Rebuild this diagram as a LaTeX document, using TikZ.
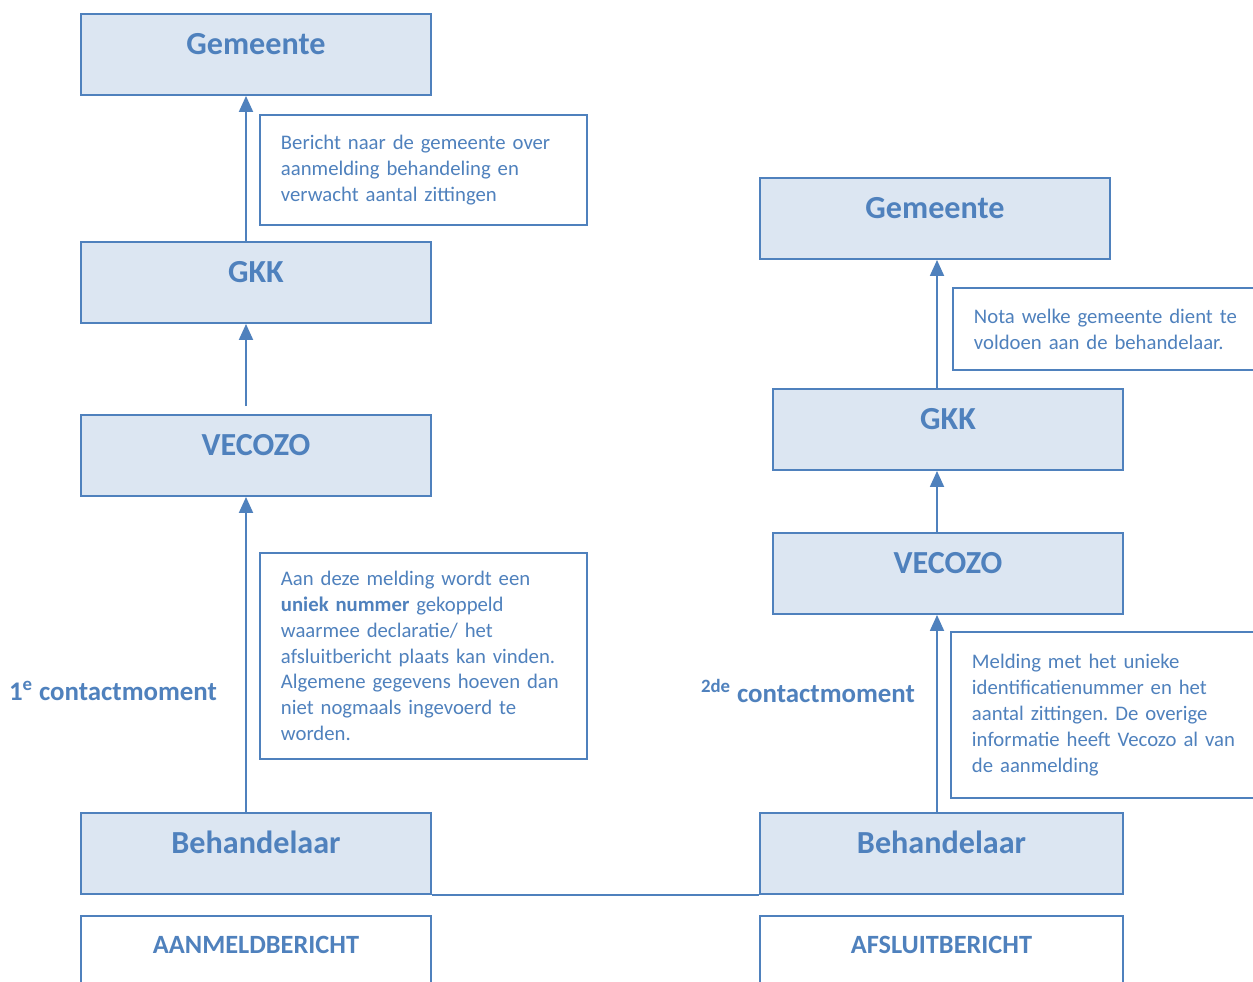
\documentclass[tikz,border=0pt]{standalone}
\usepackage{fontspec}
\setmainfont{Carlito}
\usepackage{xcolor}
\usetikzlibrary{arrows.meta}
\definecolor{vzblue}{HTML}{4F81BD}
\definecolor{vzfill}{HTML}{DCE6F2}
\frenchspacing

\begin{document}
\begin{tikzpicture}[x=0.02cm, y=-0.02cm, color=vzblue, line width=1.1pt,
    >={Triangle[width=0.28cm,length=0.32cm]},
    titlebox/.style={draw, fill=vzfill, minimum width=7cm, inner ysep=0pt,
       text height=0.81cm, text depth=0.81cm, font=\fontsize{18.3}{21}\selectfont\bfseries},
    msgbox/.style={draw, fill=white, anchor=north, minimum width=7cm, inner ysep=0pt,
       text height=0.75cm, text depth=1.2cm, font=\fontsize{15}{18}\selectfont\bfseries},
    notebox/.style={draw, anchor=north west, align=left, inner xsep=0.42cm,
       font=\fontsize{11.8}{14.75}\selectfont},
    contact/.style={font=\fontsize{15.3}{18}\selectfont\bfseries}]
    \useasboundingbox[fill=white] (0,0) rectangle (1253,981);
    % aanmelding
    \node (lgem) at (256,54.5)  [titlebox] {Gemeente};
    \node (lgkk) at (256,282.5) [titlebox] {GKK};
    \node (lvec) at (256,455.5) [titlebox] {VECOZO};
    \node (lbeh) at (256,853.5) [titlebox] {Behandelaar};
    \node (lmsg) at (256,915)   [msgbox] {AANMELDBERICHT};
    \node (lnote1) at (259,114) [notebox, text width=5.7cm, minimum height=2.2cm]
       {Bericht naar de gemeente over\\aanmelding behandeling en\\verwacht aantal zittingen};
    \node (lnote2) at (259,552) [notebox, text width=5.7cm, minimum height=4.12cm]
       {Aan deze melding wordt een\\\textbf{uniek nummer} gekoppeld\\waarmee declaratie/ het\\afsluitbericht plaats kan vinden.\\Algemene gegevens hoeven dan\\niet nogmaals ingevoerd te\\worden.};
    \node (lcontact) at (113,691) [contact] {1\textsuperscript{e} contactmoment};
    % afsluiting
    \node (rgem) at (935,218.5)   [titlebox] {Gemeente};
    \node (rgkk) at (948,429.5)   [titlebox] {GKK};
    \node (rvec) at (948,573.5)   [titlebox] {VECOZO};
    \node (rbeh) at (941.5,853.5) [titlebox, minimum width=7.26cm] {Behandelaar};
    \node (rmsg) at (941.5,915)   [msgbox, minimum width=7.26cm] {AFSLUITBERICHT};
    \node (rnote1) at (952,287) [notebox, text width=7cm, minimum height=1.64cm]
       {Nota welke gemeente dient te\\voldoen aan de behandelaar.};
    \node (rnote2) at (950,631) [notebox, text width=7cm, minimum height=3.32cm]
       {Melding met het unieke\\identificatienummer en het\\aantal zittingen. De overige\\informatie heeft Vecozo al van\\de aanmelding};
    \node (rcontact) at (808,691) [contact] {\textsuperscript{2de} contactmoment};
    % verbindingen
    \coordinate (lx) at (246,0);  \coordinate (rx) at (937,0);
    \coordinate (lgap) at (246,406);
    \draw[->] (lbeh.north -| lx) -- (lvec.south -| lx);
    \draw[->] (lgap) -- (lgkk.south -| lx);
    \draw[->] (lgkk.north -| lx) -- (lgem.south -| lx);
    \draw[->] (rbeh.north -| rx) -- (rvec.south -| rx);
    \draw[->] (rvec.north -| rx) -- (rgkk.south -| rx);
    \draw[->] (rgkk.north -| rx) -- (rgem.south -| rx);
    \draw (lbeh.south east) -- (rbeh.south west);
\end{tikzpicture}
\end{document}
